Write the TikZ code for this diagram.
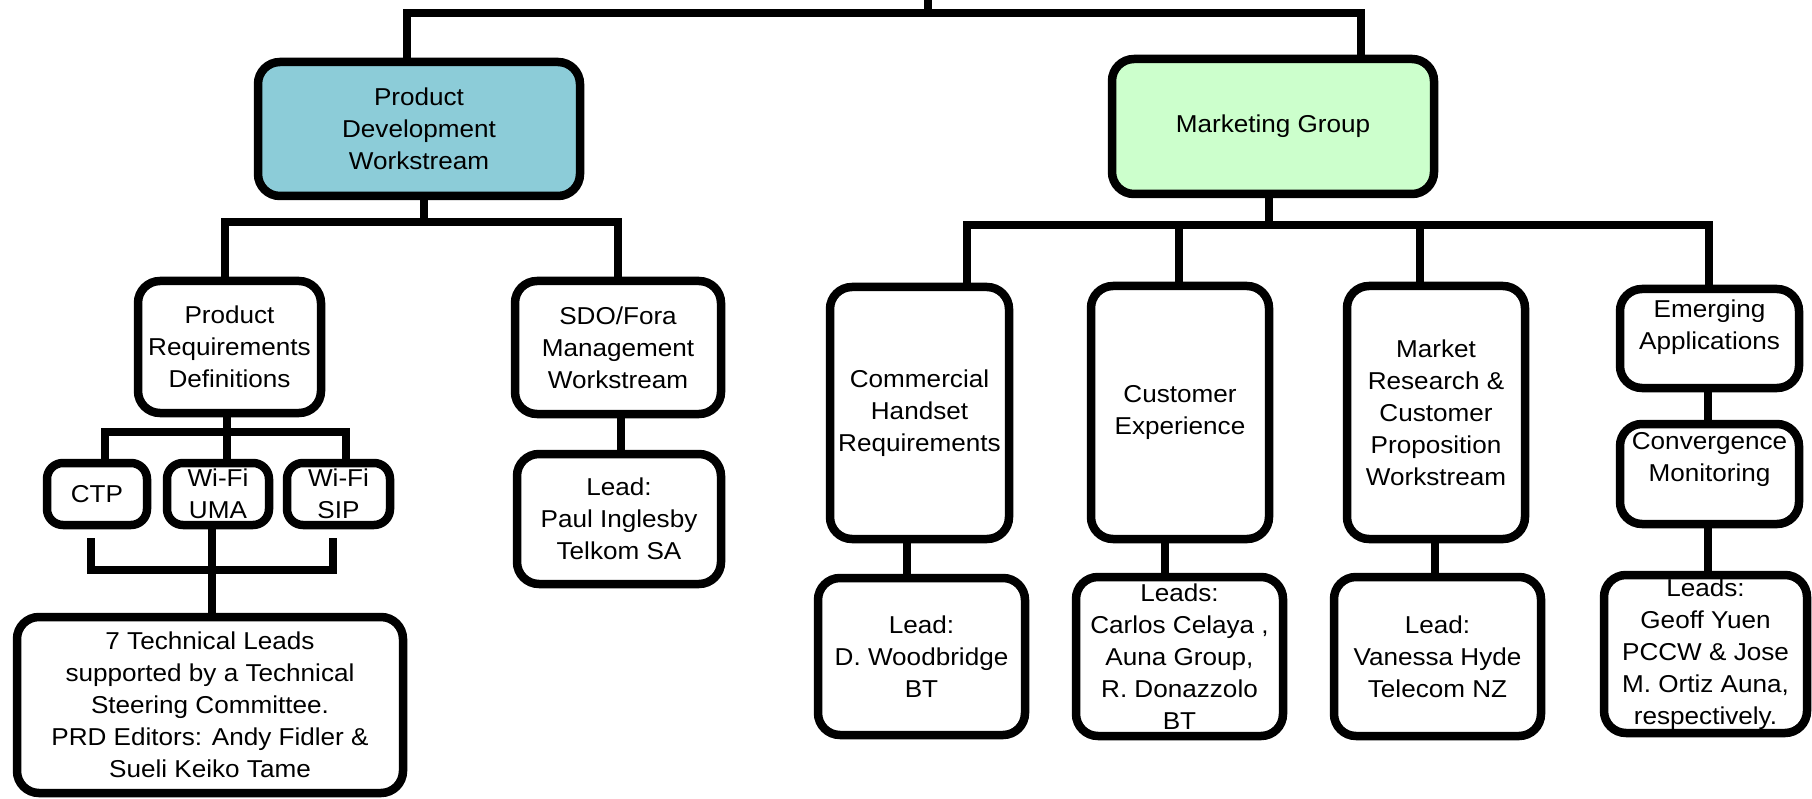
\documentclass[tikz,border=0pt]{standalone}
\usepackage{fontspec}
\setmainfont{Liberation Sans}[FakeStretch=1.07]
\definecolor{pdfill}{RGB}{140,204,216}
\definecolor{mgfill}{RGB}{204,255,204}
\tikzset{
  box/.style={draw=black, line width=8.5pt, rounded corners=22pt, align=center,
    inner sep=0pt, fill=white, font=\fontsize{24.4}{32}\selectfont},
  wire/.style={draw=black, line width=8pt, line join=miter},
}
\begin{document}
\begin{tikzpicture}[x=1pt,y=-1pt]
\useasboundingbox (0,0) rectangle (1812,799);

% ---- boxes ----
\node[box, fill=pdfill, minimum width=322pt, minimum height=134pt] (PD) at (419,129) {Product\\Development\\Workstream};
\node[box, fill=mgfill, minimum width=322pt, minimum height=135pt] (MG) at (1273,126.5) {Marketing Group};

\node[box, minimum width=183pt, minimum height=132pt] (PRD) at (229.5,347) {Product\\Requirements\\Definitions};
\node[box, minimum width=206pt, minimum height=133pt] (SDO) at (618,347.5) {SDO/Fora\\Management\\Workstream};
\node[box, minimum width=204pt, minimum height=130pt] (SDOL) at (619,519) {Lead:\\Paul Inglesby\\Telkom SA};

\node[box, rounded corners=16pt, minimum width=100pt, minimum height=62pt] (CTP) at (97,494) {CTP};
\node[box, rounded corners=16pt, minimum width=102pt, minimum height=62pt] (UMA) at (218,494) {Wi-Fi\\UMA};
\node[box, rounded corners=16pt, minimum width=103pt, minimum height=62pt] (SIP) at (338.5,494) {Wi-Fi\\SIP};
\node[box, minimum width=386pt, minimum height=176pt] (TECH) at (210,705) {7 Technical Leads\\supported by a Technical\\Steering Committee.\\PRD Editors: Andy Fidler \&\\Sueli Keiko Tame};

\node[box, minimum width=179pt, minimum height=252pt] (COM) at (919.5,413) {Commercial\\Handset\\Requirements};
\node[box, minimum width=207pt, minimum height=157pt] (COML) at (921.5,656.5) {Lead:\\D. Woodbridge\\BT};
\node[box, minimum width=178pt, minimum height=253pt] (CE) at (1180,412.5) {Customer\\Experience};
\node[box, minimum width=207pt, minimum height=159pt] (CEL) at (1179.5,656.5) {Leads:\\Carlos Celaya ,\\Auna Group,\\R. Donazzolo\\BT};
\node[box, minimum width=178pt, minimum height=253pt] (MR) at (1436,412.5) {Market\\Research \&\\Customer\\Proposition\\Workstream};
\node[box, minimum width=207pt, minimum height=159pt] (MRL) at (1437.5,656.5) {Lead:\\Vanessa Hyde\\Telecom NZ};
\node[box, minimum width=179pt, minimum height=99pt] (EA) at (1709.5,338.5) {Emerging\\Applications\\[-5pt]\mbox{}};
\node[box, minimum width=179pt, minimum height=100pt] (CM) at (1709.5,474) {Convergence\\Monitoring\\[3pt]\mbox{}};
\node[box, minimum width=203pt, minimum height=158pt] (EAL) at (1705.5,654) {Leads:\\Geoff Yuen\\PCCW \& Jose\\M. Ortiz Auna,\\respectively.};

% ---- bus coordinates ----
\coordinate (root) at (928,0);
\coordinate (topL) at (407,13);
\coordinate (topR) at (1361,13);
\coordinate (pdbus) at (424,222);
\coordinate (pdL) at (225,222);
\coordinate (pdR) at (618,222);
\coordinate (prdbus) at (227,432);
\coordinate (prdL) at (105,432);
\coordinate (prdR) at (346,432);
\coordinate (prdEnd) at (227,467);
\coordinate (brL) at (91,538);
\coordinate (brR) at (333,538);
\coordinate (brY) at (0,570);
\coordinate (mgbus) at (1269,225);
\coordinate (mg1) at (967,225);
\coordinate (mg2) at (1179,225);
\coordinate (mg3) at (1420,225);
\coordinate (mg4) at (1709,225);

% ---- connectors ----
\draw[wire] (root) -- (root |- topL);
\draw[wire] (PD.north -| topL) -- (topL) -- (topR) -- (MG.north -| topR);

\draw[wire] (PD.south -| pdbus) -- (pdbus);
\draw[wire] (PRD.north -| pdL) -- (pdL) -- (pdR) -- (SDO.north -| pdR);
\draw[wire] (SDO.south -| 621,0) -- (SDOL.north -| 621,0);

\draw[wire] (PRD.south -| prdbus) -- (prdEnd);
\draw[wire] (CTP.north -| prdL) -- (prdL) -- (prdR) -- (SIP.north -| prdR);
\draw[wire] (brL) -- (brL |- brY) -- (brR |- brY) -- (brR);
\draw[wire] (UMA.south -| 212,0) -- (TECH.north -| 212,0);

\draw[wire] (MG.south -| mgbus) -- (mgbus);
\draw[wire] (COM.north -| mg1) -- (mg1) -- (mg4) -- (EA.north -| mg4);
\draw[wire] (mg2) -- (CE.north -| mg2);
\draw[wire] (mg3) -- (MR.north -| mg3);

\draw[wire] (COM.south -| 907,0) -- (COML.north -| 907,0);
\draw[wire] (CE.south -| 1165,0) -- (CEL.north -| 1165,0);
\draw[wire] (MR.south -| 1435,0) -- (MRL.north -| 1435,0);
\draw[wire] (EA.south -| 1708,0) -- (CM.north -| 1708,0);
\draw[wire] (CM.south -| 1708,0) -- (EAL.north -| 1708,0);
\end{tikzpicture}
\end{document}
